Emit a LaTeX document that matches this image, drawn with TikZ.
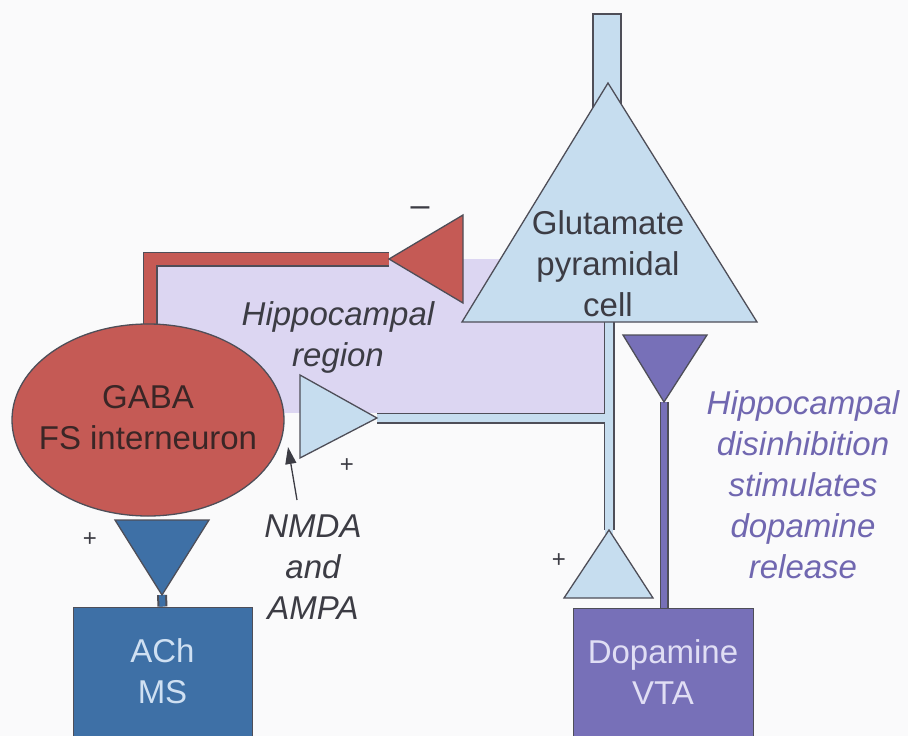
\documentclass[tikz,border=0pt]{standalone}
\usepackage{fontspec}
\setmainfont{Liberation Sans}
\usetikzlibrary{shapes.geometric,arrows.meta}
\definecolor{bg}{HTML}{FAFAFB}
\definecolor{cellblue}{HTML}{C6DDEF}
\definecolor{outl}{HTML}{4E4E58}
\definecolor{gabared}{HTML}{C55A55}
\definecolor{region}{HTML}{DCD6F2}
\definecolor{achblue}{HTML}{3E70A6}
\definecolor{dapurple}{HTML}{7770B8}
\definecolor{purtext}{HTML}{7067B0}
\definecolor{darktext}{HTML}{3C3C44}
\definecolor{gabatext}{HTML}{3A2626}
\definecolor{achtext}{HTML}{CFE0F2}
\definecolor{datext}{HTML}{E0DEF4}
\begin{document}
\begin{tikzpicture}[x=1pt,y=-1pt,line join=miter,
  lbl/.style={font=\fontsize{33}{41}\selectfont,align=center,inner sep=0pt},
  itlbl/.style={font=\fontsize{33}{41}\selectfont\itshape,align=center,inner sep=0pt},
  sgn/.style={font=\fontsize{24}{24}\selectfont,inner sep=0pt,text=darktext},
  cellshape/.style={draw=outl,line width=1.3pt},
  axonout/.style={draw=outl,line width=11pt},
  axonin/.style={line width=8pt},
  box/.style={draw=outl,line width=1pt,minimum width=179pt,minimum height=129pt,lbl}]
\useasboundingbox (0,0) rectangle (908,736);
\fill[bg] (0,0) rectangle (908,736);
% hippocampal region
\fill[region] (150,259) rectangle (606,413);
% coordinates
\coordinate (redtip) at (389,259);
\coordinate (redcorner) at (150,259);
\coordinate (gabain) at (150,360);
\coordinate (pyrbase) at (609,300);
\coordinate (branch) at (609,418);
\coordinate (bluetip) at (377,418);
\coordinate (lowtip) at (609,530);
\coordinate (datip) at (664,402);
\coordinate (achtip) at (162,595);
% red axon (inhibitory)
\draw[draw=outl,line width=15pt] (redtip) -- (redcorner) -- (gabain);
\draw[gabared,line width=12pt] (redtip) -- (redcorner) -- (gabain);
\fill[gabared,draw=outl,line width=1.3pt] (389,259) -- (463,215) -- (463,303) -- cycle;
% light blue axon with branch (under the cell body)
\draw[axonout] (pyrbase) -- (lowtip);
\draw[axonout] (bluetip) -- (branch);
\draw[cellblue,axonin] (bluetip) -- (branch);
\draw[cellblue,axonin] (pyrbase) -- ([yshift=-4pt]lowtip);
% apical dendrite and pyramidal cell
\filldraw[fill=cellblue,cellshape] (593,110) -- (593,14) -- (621,14) -- (621,110);
\filldraw[fill=cellblue,cellshape] (608,83) -- (757,322) -- (462,322) -- cycle;
\filldraw[fill=cellblue,cellshape] (bluetip) -- (300,375) -- (300,458) -- cycle;
\filldraw[fill=cellblue,cellshape] (lowtip) -- (653,598) -- (564,598) -- cycle;
% GABA interneuron
\node[ellipse,draw=outl,line width=1.3pt,fill=gabared,minimum width=272pt,minimum height=192pt] (gaba) at (148,420) {};
\node[lbl,text=gabatext] (gabalbl) at (148,418) {GABA\\FS interneuron};
% ACh
\node[box,fill=achblue,text=achtext] (ach) at (162.5,671.5) {ACh\\MS};
\draw[outl,line width=10pt] (achtip) -- (ach.north);
\draw[achblue,line width=6pt] (achtip) -- (ach.north);
\filldraw[fill=achblue,cellshape] (achtip) -- (115,520) -- (209,520) -- cycle;
% Dopamine
\node[box,fill=dapurple,text=datext,minimum width=180pt] (da) at (663,672.5) {Dopamine\\VTA};
\draw[outl,line width=9pt] (datip) -- (da.north -| datip);
\draw[dapurple,line width=6pt] (datip) -- (da.north -| datip);
\filldraw[fill=dapurple,cellshape] (datip) -- (623,335) -- (707,335) -- cycle;
% labels
\node[lbl,text=darktext] (pyrlbl) at (608,264) {Glutamate\\pyramidal\\cell};
\node[itlbl,text=darktext] (reglbl) at (338,337) {Hippocampal\\region};
\node[itlbl,text=darktext] (nmdalbl) at (313,567) {NMDA\\and\\AMPA};
\node[itlbl,text=purtext] (dislbl) at (803,485) {Hippocampal\\disinhibition\\stimulates\\dopamine\\release};
\coordinate (nmdatail) at (297,500);
\coordinate (nmdahead) at (288,447);
\draw[darktext,line width=1.3pt,-{Triangle[length=17pt,width=11pt]}] (nmdatail) -- (nmdahead);
\node[sgn,font=\fontsize{34}{34}\selectfont] (minus) at (420,212) {–};
\node[sgn] (plusA) at (347,466) {+};
\node[sgn] (plusB) at (559,561) {+};
\node[sgn] (plusC) at (90,540) {+};
\end{tikzpicture}
\end{document}
